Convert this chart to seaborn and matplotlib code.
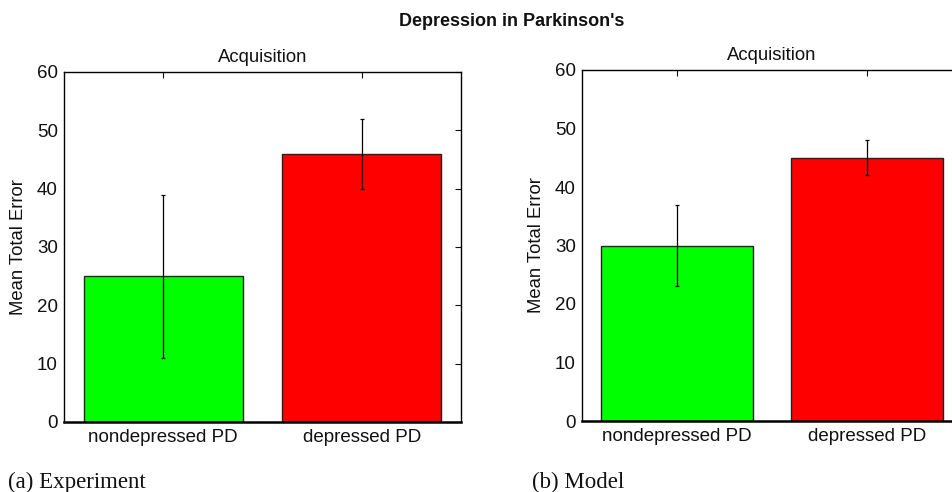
import matplotlib
matplotlib.use("Agg")
import matplotlib.pyplot as plt
import seaborn as sns
import pandas as pd
import numpy as np

categories = ["nondepressed PD", "depressed PD"]
exp_means = [25, 46]
exp_low = [11, 40]
exp_high = [39, 52]
model_means = [30, 45]
model_low = [23, 42]
model_high = [37, 48]
bar_colors = ["#00ff00", "#ff0000"]
yticks = [0, 10, 20, 30, 40, 50, 60]

sns.set_theme(style="white")
plt.rcParams['font.family'] = ['Liberation Sans', 'DejaVu Sans']

fig = plt.figure(figsize=(9.52, 4.92), dpi=100)
W, H = 952, 492

def make_ax(x0, x1, y0, y1):
    return fig.add_axes([x0 / W, 1 - y1 / H, (x1 - x0) / W, (y1 - y0) / H])

ax1 = make_ax(64, 461, 72, 422)
ax2 = make_ax(582, 962, 70, 421)

def draw(ax, means, low, high, ylab_x):
    df = pd.DataFrame({"cat": categories, "val": means})
    sns.barplot(data=df, x="cat", y="val", hue="cat", palette=bar_colors,
                width=0.8, edgecolor="#222222", linewidth=1.0, legend=False,
                errorbar=None, ax=ax, saturation=1)
    m = np.array(means)
    yerr = np.vstack([m - np.array(low), np.array(high) - m])
    ax.errorbar(np.arange(len(means)), m, yerr=yerr, fmt="none",
                ecolor="black", elinewidth=0.9, capsize=1.5, capthick=0.9)
    ax.set_xlim(-0.5, 1.5)
    ax.set_ylim(0, 60)
    ax.set_yticks(yticks)
    ax.set_xlabel("")
    ax.set_ylabel("Mean Total Error", fontsize=13.3, color="#111111")
    ax.yaxis.set_label_coords(ylab_x, 0.5)
    ax.set_title("Acquisition", fontsize=13.3, pad=7, color="#111111")
    ax.tick_params(axis="both", direction="in", labelsize=13.5, colors="#111111",
                   top=True, right=True, length=4, width=0.8)
    ax.tick_params(axis="y", pad=4.5)
    ax.tick_params(axis="x", pad=5)
    for s in ["top", "right", "left"]:
        ax.spines[s].set_visible(True)
        ax.spines[s].set_color("black")
        ax.spines[s].set_linewidth(1.0)
    ax.spines["bottom"].set_color("black")
    ax.spines["bottom"].set_linewidth(1.8)
    ax.set_facecolor("white")

draw(ax1, exp_means, exp_low, exp_high, (27 - 64) / 397)
draw(ax2, model_means, model_low, model_high, (545 - 582) / 380)

fig.text(512 / W, 1 - 21 / H, "Depression in Parkinson's", ha="center", va="center",
         fontsize=13, fontweight="bold", color="#111111")
fig.text(8 / W, 1 - 488 / H, "(a) Experiment", ha="left", va="baseline",
         fontsize=16.5, family=["Liberation Serif", "DejaVu Serif"], color="#111111")
fig.text(532 / W, 1 - 488 / H, "(b) Model", ha="left", va="baseline",
         fontsize=16.5, family=["Liberation Serif", "DejaVu Serif"], color="#111111")

fig.savefig("out.png", dpi=100, facecolor="white")
